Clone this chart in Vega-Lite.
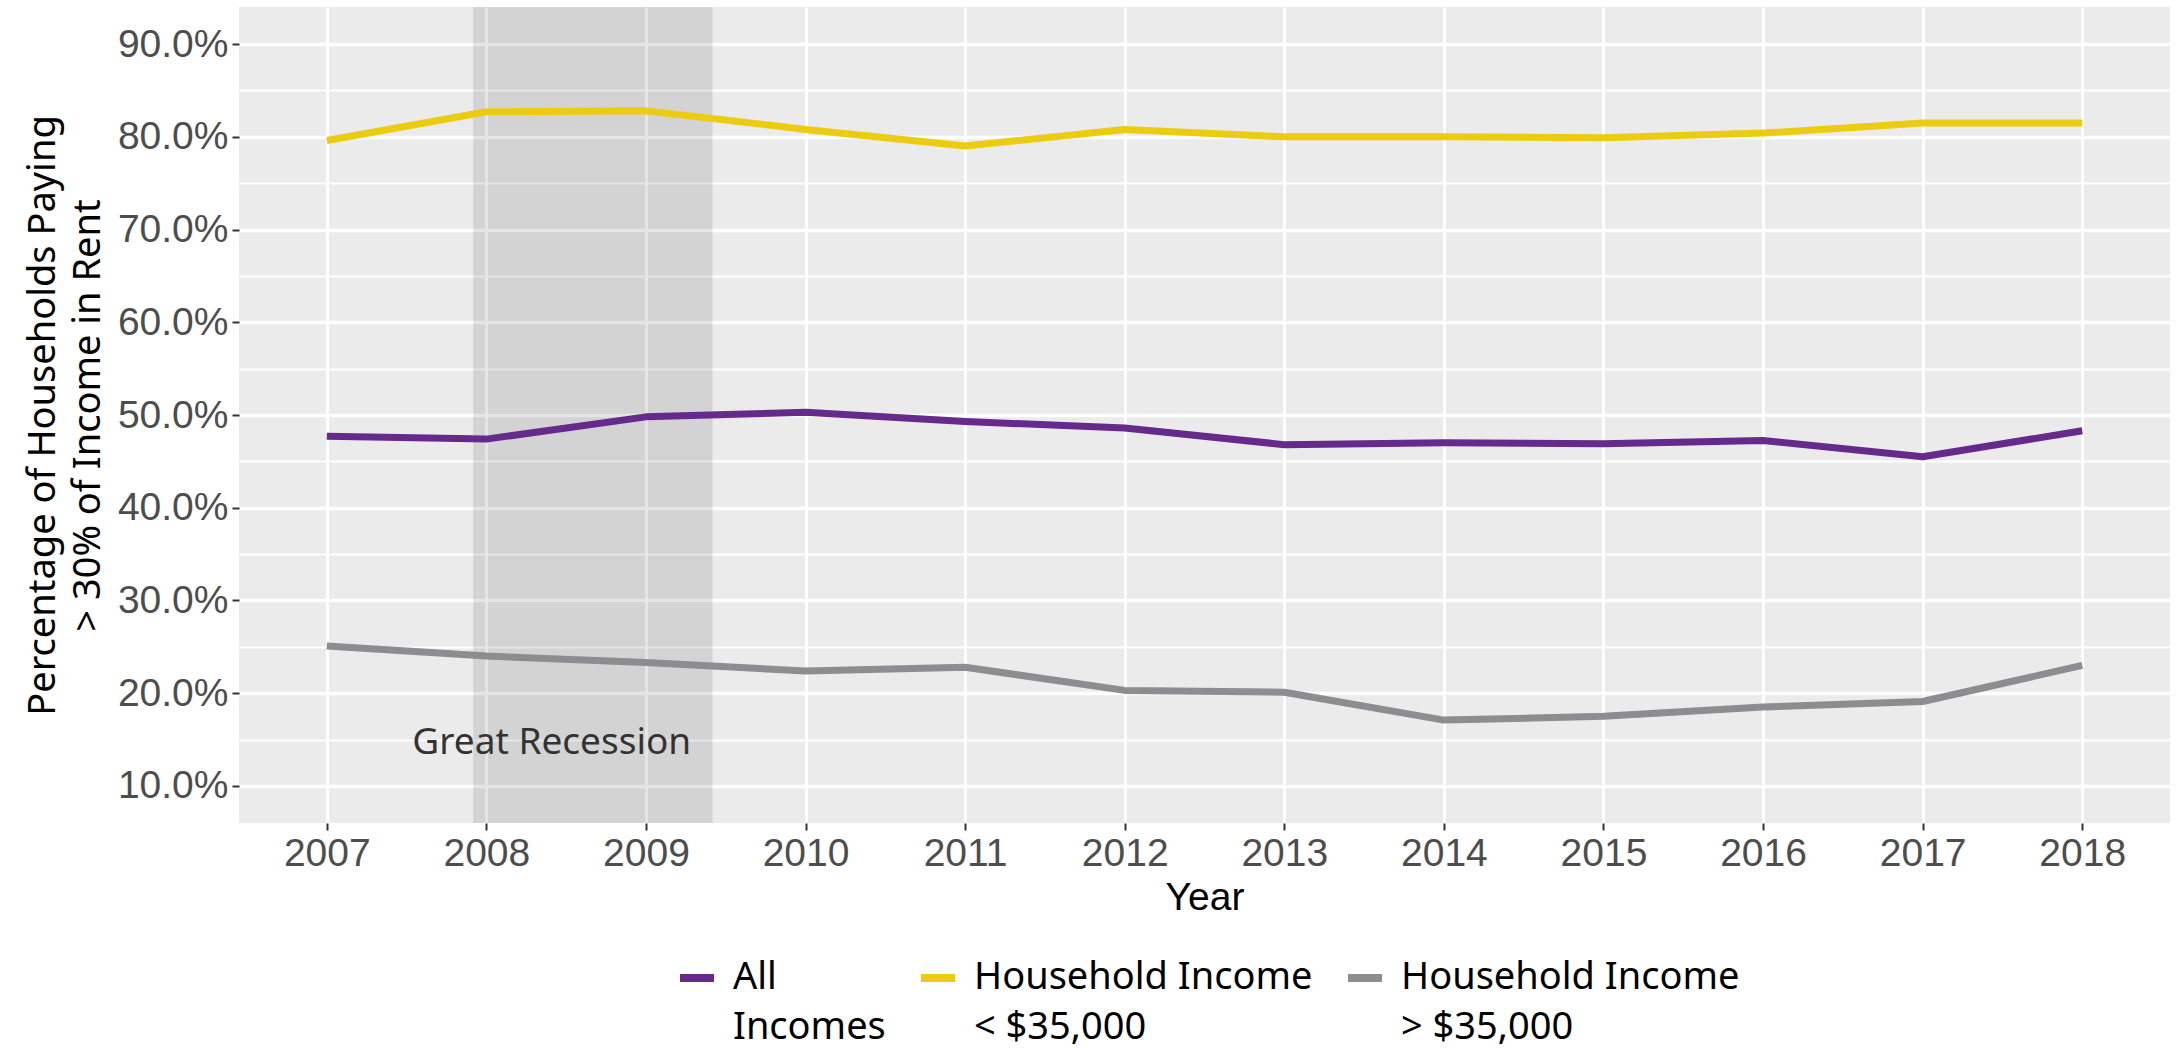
{
  "$schema": "https://vega.github.io/schema/vega-lite/v6.json",
  "width": 1931,
  "height": 816,
  "autosize": {"type": "none"},
  "padding": {"left": 239, "top": 7, "right": 7, "bottom": 230},
  "background": "white",
  "config": {
    "view": {"fill": "#EBEBEB", "stroke": null},
    "font": "Noto Sans",
    "style": {"guide-label": {"lineHeight": 50}}
  },
  "layer": [
    {
      "data": {"values": [{"Year": 2007.917, "YearEnd": 2009.417}]},
      "mark": {"type": "rect", "color": "#000000", "opacity": 0.1},
      "encoding": {
        "x": {"field": "Year", "type": "quantitative", "title": "Year",
              "scale": {"domain": [2006.45, 2018.55], "nice": false, "zero": false}},
        "x2": {"field": "YearEnd"}
      }
    },
    {
      "data": {"values": [
        {"Year": 2007, "Group": "All Incomes", "Pct": 47.7},
        {"Year": 2008, "Group": "All Incomes", "Pct": 47.4},
        {"Year": 2009, "Group": "All Incomes", "Pct": 49.8},
        {"Year": 2010, "Group": "All Incomes", "Pct": 50.3},
        {"Year": 2011, "Group": "All Incomes", "Pct": 49.3},
        {"Year": 2012, "Group": "All Incomes", "Pct": 48.6},
        {"Year": 2013, "Group": "All Incomes", "Pct": 46.8},
        {"Year": 2014, "Group": "All Incomes", "Pct": 47.0},
        {"Year": 2015, "Group": "All Incomes", "Pct": 46.9},
        {"Year": 2016, "Group": "All Incomes", "Pct": 47.25},
        {"Year": 2017, "Group": "All Incomes", "Pct": 45.5},
        {"Year": 2018, "Group": "All Incomes", "Pct": 48.3},
        {"Year": 2007, "Group": "Household Income < $35,000", "Pct": 79.6},
        {"Year": 2008, "Group": "Household Income < $35,000", "Pct": 82.7},
        {"Year": 2009, "Group": "Household Income < $35,000", "Pct": 82.8},
        {"Year": 2010, "Group": "Household Income < $35,000", "Pct": 80.8},
        {"Year": 2011, "Group": "Household Income < $35,000", "Pct": 79.0},
        {"Year": 2012, "Group": "Household Income < $35,000", "Pct": 80.8},
        {"Year": 2013, "Group": "Household Income < $35,000", "Pct": 80.0},
        {"Year": 2014, "Group": "Household Income < $35,000", "Pct": 80.0},
        {"Year": 2015, "Group": "Household Income < $35,000", "Pct": 79.9},
        {"Year": 2016, "Group": "Household Income < $35,000", "Pct": 80.4},
        {"Year": 2017, "Group": "Household Income < $35,000", "Pct": 81.5},
        {"Year": 2018, "Group": "Household Income < $35,000", "Pct": 81.5},
        {"Year": 2007, "Group": "Household Income > $35,000", "Pct": 25.1},
        {"Year": 2008, "Group": "Household Income > $35,000", "Pct": 24.0},
        {"Year": 2009, "Group": "Household Income > $35,000", "Pct": 23.3},
        {"Year": 2010, "Group": "Household Income > $35,000", "Pct": 22.4},
        {"Year": 2011, "Group": "Household Income > $35,000", "Pct": 22.8},
        {"Year": 2012, "Group": "Household Income > $35,000", "Pct": 20.3},
        {"Year": 2013, "Group": "Household Income > $35,000", "Pct": 20.1},
        {"Year": 2014, "Group": "Household Income > $35,000", "Pct": 17.1},
        {"Year": 2015, "Group": "Household Income > $35,000", "Pct": 17.5},
        {"Year": 2016, "Group": "Household Income > $35,000", "Pct": 18.5},
        {"Year": 2017, "Group": "Household Income > $35,000", "Pct": 19.1},
        {"Year": 2018, "Group": "Household Income > $35,000", "Pct": 23.0}
      ]},
      "mark": {"type": "line", "strokeWidth": 7, "strokeJoin": "round"},
      "encoding": {
        "x": {
          "field": "Year", "type": "quantitative", "title": "Year",
          "scale": {"domain": [2006.45, 2018.55], "nice": false, "zero": false},
          "axis": {
            "values": [2007, 2008, 2009, 2010, 2011, 2012, 2013, 2014, 2015, 2016, 2017, 2018],
            "format": "d",
            "domain": false,
            "grid": true, "gridColor": "#FFFFFF", "gridWidth": 3,
            "tickColor": "#333333", "tickSize": 7, "tickWidth": 2,
            "labelFont": "Liberation Sans", "labelFontSize": 39, "labelColor": "#4D4D4D", "labelPadding": 4,
            "labelFlush": false, "labelOverlap": false,
            "titleFont": "Liberation Sans", "titleFontSize": 39, "titleFontWeight": "normal",
            "titleColor": "#000000", "titlePadding": 5
          }
        },
        "y": {
          "field": "Pct", "type": "quantitative",
          "title": ["Percentage of Households Paying", "> 30% of Income in Rent"],
          "scale": {"domain": [6, 94], "nice": false, "zero": false},
          "axis": {
            "values": [10, 15, 20, 25, 30, 35, 40, 45, 50, 55, 60, 65, 70, 75, 80, 85, 90],
            "labelExpr": "datum.value % 10 === 0 ? format(datum.value, '.1f') + '%' : ''",
            "domain": false,
            "grid": true, "gridColor": "#FFFFFF",
            "gridWidth": {"condition": {"test": "datum.value % 10 === 0", "value": 3.5}, "value": 1.8},
            "tickColor": "#333333", "tickSize": 7, "tickWidth": 2,
            "tickOpacity": {"condition": {"test": "datum.value % 10 === 0", "value": 1}, "value": 0},
            "labelFont": "Liberation Sans", "labelFontSize": 39, "labelColor": "#4D4D4D", "labelPadding": 4,
            "labelFlush": false, "labelOverlap": false,
            "titleFont": "Noto Sans", "titleFontSize": 38, "titleFontWeight": "normal",
            "titleColor": "#000000", "titlePadding": 10, "titleLineHeight": 45
          }
        },
        "color": {
          "field": "Group", "type": "nominal",
          "scale": {
            "domain": ["All Incomes", "Household Income < $35,000", "Household Income > $35,000"],
            "range": ["#66298C", "#EBCC10", "#8C8C91"]
          },
          "legend": {
            "orient": "none", "legendX": 437, "legendY": 950,
            "direction": "horizontal", "title": null,
            "symbolType": "stroke", "symbolStrokeWidth": 8, "symbolSize": 1156,
            "labelFont": "Noto Sans", "labelFontSize": 38, "labelColor": "#000000",
            "labelOffset": 15, "columnPadding": 19, "labelLimit": 1000,
            "labelExpr": "datum.label == 'All Incomes' ? ['All', 'Incomes'] : datum.label == 'Household Income < $35,000' ? ['Household Income', '< $35,000'] : ['Household Income', '> $35,000']"
          }
        }
      }
    },
    {
      "data": {"values": [{"Year": 2008.41, "Pct": 14.6, "Label": "Great Recession"}]},
      "mark": {"type": "text", "font": "Noto Sans", "fontSize": 37, "color": "#333333", "align": "center", "baseline": "middle"},
      "encoding": {
        "x": {"field": "Year", "type": "quantitative", "title": "Year"},
        "y": {"field": "Pct", "type": "quantitative", "title": ["Percentage of Households Paying", "> 30% of Income in Rent"]},
        "text": {"field": "Label"}
      }
    }
  ]
}
